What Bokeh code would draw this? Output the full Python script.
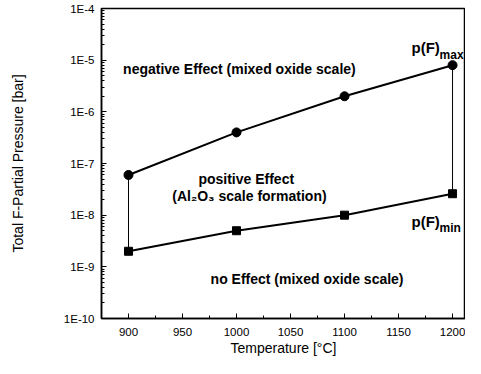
from bokeh.plotting import figure
from bokeh.models import Range1d, FixedTicker, CustomJSTickFormatter, Label, Spacer
from bokeh.layouts import row
from bokeh.embed import file_html
from bokeh.resources import INLINE

# data
temps = [900, 1000, 1100, 1200]
p_max = [6.0e-8, 4.0e-7, 2.0e-6, 8.0e-6]
p_min = [2.0e-9, 5.0e-9, 1.0e-8, 2.6e-8]
y_ticks = [1e-10, 1e-9, 1e-8, 1e-7, 1e-6, 1e-5, 1e-4]
x_ticks = [900, 950, 1000, 1050, 1100, 1150, 1200]
x_minor = [875, 925, 975, 1025, 1075, 1125, 1175, 1225]
y_minor = [k * 10.0 ** e for e in range(-10, -4) for k in range(2, 10)]

FONT = "Liberation Sans"

p = figure(width=459, height=358, output_backend="svg", toolbar_location=None,
           y_axis_type="log", x_range=Range1d(875, 1212), y_range=Range1d(1e-10, 1e-4),
           min_border_top=8, min_border_right=0, min_border_left=0, min_border_bottom=0)
p.outline_line_color = "black"
p.outline_line_width = 1.5
p.xgrid.visible = False
p.ygrid.visible = False
p.background_fill_color = "white"
p.border_fill_color = "white"

# axes
xa = p.below[0]
ya = p.left[0]
xa.ticker = FixedTicker(ticks=x_ticks, minor_ticks=x_minor)
xa.axis_label = "Temperature [°C]"
ya.ticker = FixedTicker(ticks=y_ticks, minor_ticks=y_minor)
ya.formatter = CustomJSTickFormatter(code='return "1E" + Math.round(Math.log10(tick));')
ya.axis_label = "Total F-Partial Pressure [bar]"
for ax in (xa, ya):
    ax.major_tick_in = 5
    ax.major_tick_out = 0
    ax.minor_tick_in = 3
    ax.minor_tick_out = 0
    ax.axis_line_width = 1.5
    ax.axis_line_color = "black"
    ax.major_tick_line_color = "black"
    ax.minor_tick_line_color = "black"
    ax.major_label_text_font = FONT
    ax.major_label_text_font_size = "11.5px"
    ax.major_label_text_color = "black"
    ax.axis_label_text_font = FONT
    ax.axis_label_text_font_size = "14px"
    ax.axis_label_text_font_style = "normal"
    ax.axis_label_text_color = "black"
xa.major_label_standoff = 9
xa.axis_label_standoff = 1
ya.major_label_standoff = 7
ya.axis_label_standoff = 35

# connectors
p.line([temps[0], temps[0]], [p_min[0], p_max[0]], line_color="black", line_width=1)
p.line([temps[-1], temps[-1]], [p_min[-1], p_max[-1]], line_color="black", line_width=1)

# series
p.line(temps, p_max, line_color="black", line_width=2)
p.scatter(temps, p_max, marker="circle", size=9, fill_color="black", line_color="black")
p.line(temps, p_min, line_color="black", line_width=2)
p.scatter(temps, p_min, marker="square", size=8, fill_color="black", line_color="black")

def lab(x, y, t, size="14px", align="left"):
    p.add_layout(Label(x=x, y=y, text=t, text_font=FONT, text_font_size=size,
                       text_font_style="bold", text_align=align, text_baseline="middle",
                       text_color="black"))

lab(895, 6.6e-6, "negative Effect (mixed oxide scale)")
lab(1009, 5.1e-8, "positive Effect", align="center")
lab(1012, 2.4e-8, "(Al₂O₃ scale formation)", align="center")
lab(976, 5.7e-10, "no Effect (mixed oxide scale)")
lab(1162, 1.74e-5, "p(F)", size="15px")
lab(1188, 1.28e-5, "max", size="12px")
lab(1162, 7.5e-9, "p(F)", size="15px")
lab(1188, 5.6e-9, "min", size="12px")

layout = row(Spacer(width=6), p)
open("out.html", "w").write(file_html(layout, INLINE))
